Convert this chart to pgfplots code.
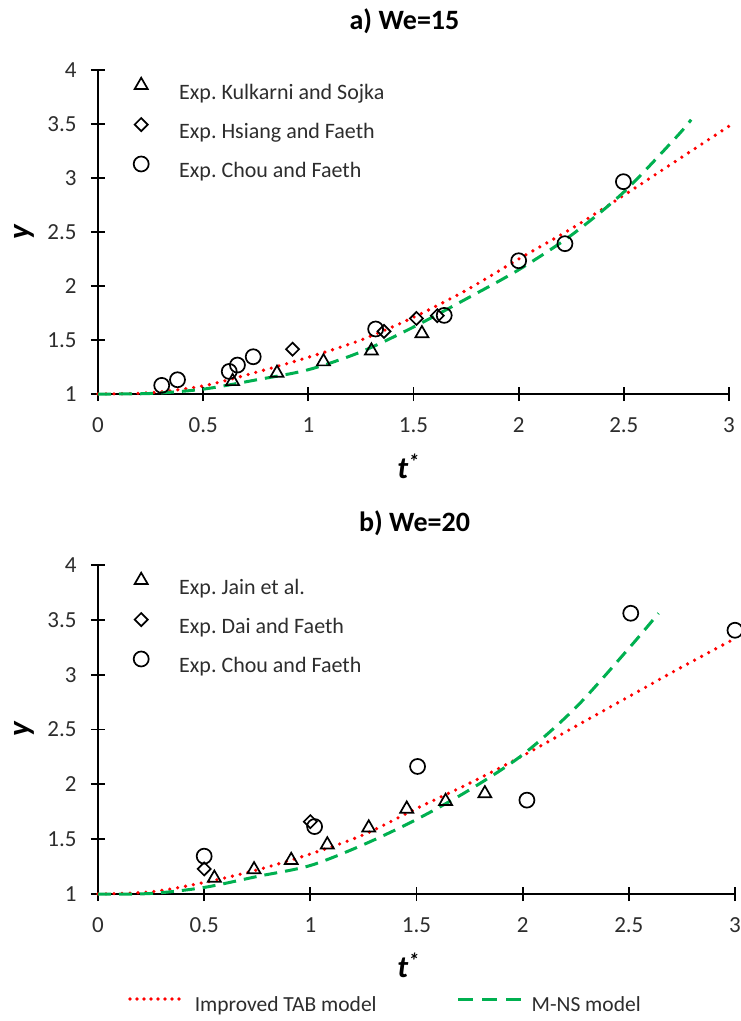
\documentclass[border=0pt]{standalone}
\usepackage{fontspec}
\setmainfont{Carlito}
\usepackage{pgfplots}
\pgfplotsset{compat=1.18}
\definecolor{exred}{RGB}{255,0,0}
\definecolor{exgreen}{RGB}{0,176,80}
\definecolor{txtgray}{RGB}{45,45,45}
\newcommand\tickfont{\fontsize{23}{27}\selectfont}
\newcommand\legfont{\fontsize{22}{26}\selectfont}
\newcommand\botlegfont{\fontsize{21.5}{26}\selectfont}
\newcommand\titfont{\fontsize{28}{32}\selectfont\bfseries}
\newcommand\labfont{\fontsize{31}{36}\selectfont\bfseries\itshape}

\pgfplotsset{
  panel/.style={
    scale only axis, clip=false,
    xmin=0, xmax=3, ymin=1, ymax=4,
    axis x line=bottom, axis y line=left,
    axis line style={-, line width=1.8pt, black},
    every tick/.style={black, line width=1.8pt},
    major tick length=14pt,
    tick align=center,
    xtick={0,0.5,1,1.5,2,2.5,3},
    ytick={1,1.5,2,2.5,3,3.5,4},
    xticklabels={0,0.5,1,1.5,2,2.5,3},
    yticklabels={1,1.5,2,2.5,3,3.5,4},
    tick label style={font=\tickfont, text=txtgray},
    xticklabel style={yshift=-13pt},
    yticklabel style={xshift=-11pt},
    title style={font=\titfont, anchor=center, at={(axis description cs:0.5,1)}},
    xlabel style={font=\labfont, anchor=center, at={(axis description cs:0.5,0)}},
    ylabel style={font=\labfont, anchor=center},
    legend style={draw=none, fill=none, inner sep=0pt, font=\legfont, text=txtgray,
      anchor=north west, row sep=13pt, column sep=27pt},
    legend cell align=left,
  },
  markleg/.style={legend image code/.code={%
      \draw[##1] plot coordinates {(0pt,7pt)};
      \path[draw=none, fill=none] (-9pt,-2pt) rectangle (9pt,16pt);}},
  redleg/.style={legend image code/.code={\draw[##1] (2pt,6pt) -- (57pt,6pt);}},
  greenleg/.style={legend image code/.code={\draw[##1] (0pt,6pt) -- (64pt,6pt);}},
  tri/.style={only marks, mark=triangle, mark size=7.5pt,
    mark options={black, line width=1.7pt, fill=none, solid}, markleg},
  dia/.style={only marks, mark=square, mark size=4.6pt,
    mark options={black, line width=1.7pt, fill=none, solid, rotate=45}, markleg},
  cir/.style={only marks, mark=o, mark size=7.5pt,
    mark options={black, line width=1.7pt, fill=none, solid}, markleg},
  redline/.style={color=exred, line width=3.6pt, line cap=round,
    dash pattern=on 0pt off 8pt, no marks, smooth, tension=0.5},
  greenline/.style={color=exgreen, line width=3pt,
    dash pattern=on 13pt off 8pt, no marks, smooth, tension=0.5},
}

\begin{document}
\frenchspacing
\begin{tikzpicture}
\useasboundingbox (0,0) rectangle (740pt,-1021pt);

% ---------- panel a ----------
\begin{axis}[panel, at={(98pt,-394pt)}, anchor=south west,
  width=631pt, height=324pt,
  title={a) We=15}, title style={yshift=43pt, xshift=-9pt},
  xlabel={t\textsuperscript{*}}, xlabel style={yshift=-72pt, xshift=-5pt},
  ylabel={y}, ylabel style={at={(axis description cs:-0.117,0.5)}},
  legend style={at={(rel axis cs:0,1)}, xshift=34pt, yshift=-6pt}]
\addplot[redline, forget plot] coordinates {
 (0,1) (0.25,1.012) (0.5,1.075) (0.75,1.2) (1,1.34) (1.25,1.5) (1.5,1.71)
 (1.75,1.96) (2,2.25) (2.25,2.53) (2.5,2.84) (2.75,3.16) (3,3.48)};
\addplot[greenline, forget plot] coordinates {
 (0,1) (0.25,1.005) (0.5,1.045) (0.75,1.13) (1,1.225) (1.25,1.39) (1.5,1.62)
 (1.75,1.88) (2,2.15) (2.25,2.47) (2.5,2.87) (2.75,3.38) (2.82,3.54)};
\addplot[tri] coordinates {
 (0.64,1.117) (0.851,1.194) (1.072,1.30) (1.30,1.40) (1.54,1.56)};
\addlegendentry{Exp. Kulkarni and Sojka}
\addplot[dia] coordinates {
 (0.925,1.415) (1.36,1.58) (1.514,1.70) (1.613,1.725)};
\addlegendentry{Exp. Hsiang and Faeth}
\addplot[cir] coordinates {
 (0.303,1.08) (0.378,1.132) (0.624,1.209) (0.663,1.268) (0.738,1.345)
 (1.32,1.602) (1.646,1.728) (2.0,2.234) (2.22,2.392) (2.498,2.966)};
\addlegendentry{Exp. Chou and Faeth}
\end{axis}

% ---------- panel b ----------
\begin{axis}[panel, at={(98pt,-894pt)}, anchor=south west,
  width=637pt, height=329pt,
  title={b) We=20}, title style={yshift=36pt, xshift=-2pt},
  xlabel={t\textsuperscript{*}}, xlabel style={yshift=-71pt, xshift=-8pt},
  ylabel={y}, ylabel style={at={(axis description cs:-0.116,0.5)}},
  legend style={at={(rel axis cs:0,1)}, xshift=34pt, yshift=-6pt}]
\addplot[redline, forget plot] coordinates {
 (0,1) (0.25,1.02) (0.5,1.105) (0.75,1.22) (1,1.365) (1.25,1.54) (1.5,1.78)
 (1.75,2.01) (2,2.26) (2.25,2.53) (2.5,2.80) (2.75,3.07) (3,3.33)};
\addplot[greenline, forget plot] coordinates {
 (0,1) (0.25,1.005) (0.5,1.06) (0.75,1.16) (1,1.26) (1.25,1.45) (1.5,1.68)
 (1.75,1.95) (2,2.27) (2.25,2.70) (2.5,3.24) (2.64,3.56)};
\addplot[tri] coordinates {
 (0.548,1.146) (0.735,1.223) (0.91,1.308) (1.08,1.45) (1.275,1.604)
 (1.454,1.776) (1.637,1.846) (1.822,1.916)};
\addlegendentry{Exp. Jain et al.}
\addplot[dia] coordinates {(0.5,1.229) (1.0,1.66)};
\addlegendentry{Exp. Dai and Faeth}
\addplot[cir] coordinates {
 (0.5,1.345) (1.02,1.615) (1.505,2.163) (2.02,1.856) (2.509,3.56) (3.0,3.405)};
\addlegendentry{Exp. Chou and Faeth}
\end{axis}

% ---------- shared legend ----------
\begin{axis}[hide axis, scale only axis, at={(0pt,-1021pt)}, anchor=south west,
  width=740pt, height=1021pt, xmin=0, xmax=740, ymin=-1021, ymax=0,
  legend columns=2,
  legend style={draw=none, fill=none, inner sep=0pt, font=\botlegfont, text=txtgray,
    at={(axis cs:128,-1005)}, anchor=west,
    /tikz/every odd column/.append style={column sep=6pt},
    /tikz/every even column/.append style={column sep=78pt}},
  legend cell align=left]
\addlegendimage{color=exred, line width=3.6pt, line cap=round, dash pattern=on 0pt off 7pt, redleg}
\addlegendentry{Improved TAB model}
\addlegendimage{color=exgreen, line width=3pt, dash pattern=on 15pt off 9pt, greenleg}
\addlegendentry{M-NS model}
\end{axis}
\end{tikzpicture}
\end{document}
